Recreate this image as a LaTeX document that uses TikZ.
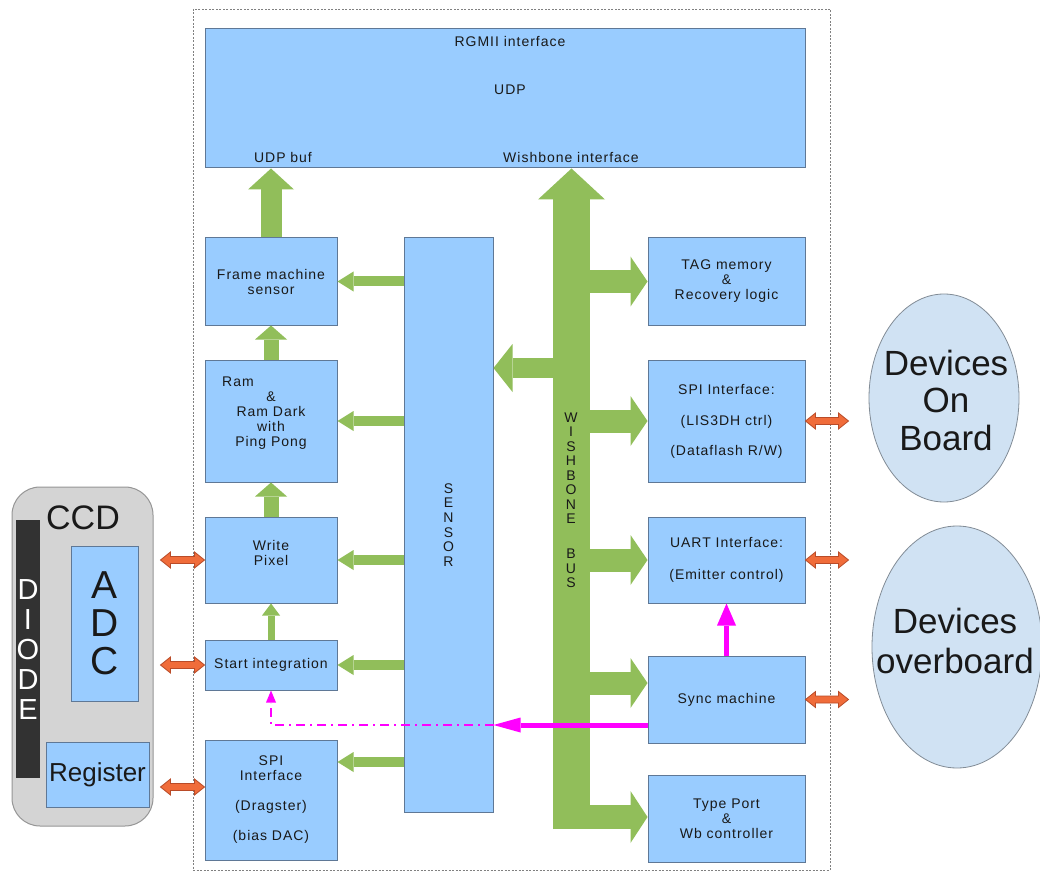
\documentclass[tikz,border=0pt]{standalone}
\usepackage{fontspec}
\setmainfont{Liberation Sans}
\newfontfamily\spacedsans{Liberation Sans}[LetterSpace=7]
\usetikzlibrary{arrows.meta,calc,shapes.geometric}

\definecolor{boxblue}{RGB}{153,204,255}
\definecolor{boxline}{RGB}{95,120,150}
\definecolor{busgreen}{RGB}{145,190,90}
\definecolor{linkorange}{RGB}{240,108,58}
\definecolor{linkedge}{RGB}{185,75,40}
\definecolor{syncmag}{RGB}{255,0,255}
\definecolor{ccdgray}{RGB}{212,212,212}
\definecolor{ccdedge}{RGB}{150,150,150}
\definecolor{diodedark}{RGB}{50,50,50}
\definecolor{devfill}{RGB}{208,226,243}
\definecolor{devedge}{RGB}{130,140,150}
\definecolor{inktext}{RGB}{25,25,25}

% horizontal two-headed link between two points (left to right)
\newcommand\biarrow[2]{%
  \draw[linkarrow] let \p1=#1, \p2=#2 in
    (\x1,\y1) -- (\x1+10pt,\y1+8pt) -- (\x1+10pt,\y1+3.5pt)
    -- (\x2-10pt,\y2+3.5pt) -- (\x2-10pt,\y2+8pt) -- (\x2,\y2)
    -- (\x2-10pt,\y2-8pt) -- (\x2-10pt,\y2-3.5pt)
    -- (\x1+10pt,\y1-3.5pt) -- (\x1+10pt,\y1-8pt) -- cycle;}

\tikzset{
  block/.style={rectangle, draw=boxline, fill=boxblue, line width=1pt,
    inner sep=0pt, align=center, text=inktext,
    font=\spacedsans\fontsize{14}{15}\selectfont},
  lbl/.style={inner sep=0pt, align=center, text=inktext,
    font=\spacedsans\fontsize{14}{15}\selectfont},
  fat/.style n args={3}{draw=busgreen, line width=#1,
    -{Triangle[width=#2, length=#3, line width=0pt]}},
  linkarrow/.style={fill=linkorange, draw=linkedge, line width=0.8pt, line join=miter},
  syncline/.style n args={2}{draw=syncmag, line width=5pt,
    -{Triangle[width=#1, length=#2, line width=0pt]}},
  syncdash/.style={draw=syncmag, line width=1.6pt,
    dash pattern=on 9pt off 5pt on 2pt off 5pt,
    -{Triangle[width=10pt, length=12pt, line width=0pt]}},
  device/.style={ellipse, draw=devedge, fill=devfill, line width=0.8pt, inner sep=0pt},
  bigtext/.style={inner sep=0pt, align=center, text=inktext}
}

\begin{document}
\begin{tikzpicture}[x=1pt,y=-1pt]
\clip (0,0) rectangle (1040,874);
\fill[white] (0,0) rectangle (1040,874);

% FPGA boundary
\draw[gray, line width=0.8pt, dash pattern=on 2pt off 1.5pt] (193,9) rectangle (830,870);

% UDP core
\node[block, minimum width=600pt, minimum height=139pt] (udp) at (505,98.5) {};
\node[lbl] (rgmii) at (510,41) {RGMII interface};
\node[lbl] (udpname) at (510,90) {UDP};
\node[lbl] (udpbuf) at (283,157) {UDP buf};
\node[lbl] (wbif) at (571,157) {Wishbone interface};

% left column
\node[block, minimum width=132pt, minimum height=87pt] (frame) at (271,281.5) {Frame machine\\sensor};
\node[block, minimum width=132pt, minimum height=122pt] (ram) at (271,421) {};
\node[lbl] (ramtxt) at (271,413) {Ram\hspace*{66pt}\\\&\\Ram Dark\\with\\Ping Pong};
\node[block, minimum width=132pt, minimum height=86pt] (wp) at (271,560) {};
\node[lbl] (wptxt) at (271,552.5) {Write\\Pixel};
\node[block, minimum width=132pt, minimum height=50pt] (si) at (271,665) {Start integration};
\node[block, minimum width=132pt, minimum height=120pt] (spil) at (271,800)
  {SPI\\Interface\\[15pt](Dragster)\\[15pt](bias DAC)};

% sensor column
\node[block, minimum width=89pt, minimum height=574pt] (sensor) at (448.5,525)
  {S\\[-0.3pt]E\\[-0.3pt]N\\[-0.3pt]S\\[-0.3pt]O\\[-0.3pt]R};

% right column
\node[block, minimum width=157pt, minimum height=87pt] (tag) at (726.5,281.5)
  {TAG memory\\\&\\Recovery logic};
\node[block, minimum width=157pt, minimum height=122pt] (spir) at (726.5,421)
  {SPI Interface:\\[16pt](LIS3DH ctrl)\\[15pt](Dataflash R/W)};
\node[block, minimum width=157pt, minimum height=86pt] (uart) at (726.5,560)
  {UART Interface:\\[17pt](Emitter control)};
\node[block, minimum width=157pt, minimum height=87pt] (sync) at (726.5,699.5) {Sync machine};
\node[block, minimum width=157pt, minimum height=87pt] (typ) at (726.5,818.5)
  {Type Port\\\&\\Wb controller};

% CCD
\node[rectangle, rounded corners=28pt, draw=ccdedge, fill=ccdgray, line width=1pt,
  minimum width=141pt, minimum height=339pt] (ccd) at (82.5,656.5) {};
\node[rectangle, fill=diodedark, minimum width=24pt, minimum height=258pt, inner sep=0pt]
  (diode) at (28,649) {};
\node[bigtext, text=white, font=\fontsize{29}{30}\selectfont] (diodetxt) at (28,650) {D\\I\\O\\D\\E};
\node[block, minimum width=67pt, minimum height=155pt, font=\fontsize{39}{38}\selectfont]
  (adc) at (104.5,623.5) {A\\D\\C};
\node[block, minimum width=103pt, minimum height=65pt, font=\fontsize{26}{26}\selectfont]
  (reg) at (97.5,774.5) {Register};
\node[bigtext, font=\fontsize{34}{34}\selectfont] (ccdtxt) at (83,518) {CCD};

% external devices
\node[device, minimum width=150pt, minimum height=208pt] (onboard) at (944,398) {};
\node[bigtext, font=\fontsize{35}{37.5}\selectfont] (onboardtxt) at (946,400) {Devices\\On\\Board};
\node[device, minimum width=170pt, minimum height=242pt] (overboard) at (957,647) {};
\node[bigtext, font=\fontsize{35}{40}\selectfont] (overboardtxt) at (955,641) {Devices\\overboard};

% Wishbone bus and its taps
\coordinate (busfoot) at (571.5,829);
\coordinate (elbow) at (553,817);
\coordinate (tapsensor) at (0,368);
\coordinate (tapsync) at (0,683);
\draw[fat={37pt}{67pt}{31pt}] (busfoot) -- (busfoot |- udp.south);
\draw[fat={23pt}{50pt}{17pt}] (busfoot |- tag.west) -- (tag.west);
\draw[fat={23pt}{50pt}{17pt}] (busfoot |- spir.west) -- (spir.west);
\draw[fat={23pt}{50pt}{17pt}] (busfoot |- uart.west) -- (uart.west);
\draw[fat={23pt}{50pt}{17pt}] (busfoot |- tapsync) -- (sync.west |- tapsync);
\draw[fat={24pt}{52pt}{17pt}] (elbow) -- (elbow -| typ.west);
\draw[fat={20pt}{48pt}{19pt}] (busfoot |- tapsensor) -- (sensor.east |- tapsensor);
\node[bigtext, font=\fontsize{14}{14.5}\selectfont] (busname) at (571,500)
  {W\\I\\S\\H\\B\\O\\N\\E\\[20.5pt]B\\U\\S};

% data path
\draw[fat={21pt}{46pt}{21pt}] (frame.north) -- (frame.north |- udp.south);
\draw[fat={15pt}{32pt}{14pt}] (ram.north) -- (frame.south);
\draw[fat={15pt}{32pt}{14pt}] (wp.north) -- (ram.south);
\draw[fat={7pt}{18pt}{12pt}] (si.north) -- (wp.south);

% sensor control lines
\coordinate (tapspi) at (0,762);
\draw[fat={10pt}{20pt}{16pt}] (sensor.west |- frame.east) -- (frame.east);
\draw[fat={10pt}{20pt}{16pt}] (sensor.west |- ram.east) -- (ram.east);
\draw[fat={10pt}{20pt}{16pt}] (sensor.west |- wp.east) -- (wp.east);
\draw[fat={10pt}{20pt}{16pt}] (sensor.west |- si.east) -- (si.east);
\draw[fat={10pt}{20pt}{16pt}] (sensor.west |- tapspi) -- (spil.east |- tapspi);

% sync signals
\coordinate (tapsig) at (0,725);
\draw[syncline={19pt}{22pt}] (sync.north) -- (uart.south);
\draw[syncline={15pt}{27pt}] (sync.west |- tapsig) -- (sensor.east |- tapsig);
\draw[syncdash] (sensor.east |- tapsig) -- (si.south |- tapsig) -- (si.south);

% external links
\coordinate (ccdwp) at ($(ccd.east |- wp.west)+(7,0)$);
\coordinate (ccdsi) at ($(ccd.east |- si.west)+(7,0)$);
\coordinate (ccdreg) at ($(reg.east)+(11,12.5)$);
\biarrow{(ccdwp)}{(wp.west)}
\biarrow{(ccdsi)}{(si.west)}
\biarrow{(ccdreg)}{(ccdreg -| spil.west)}
\biarrow{(spir.east)}{($(spir.east)+(43,0)$)}
\biarrow{(uart.east)}{($(uart.east)+(43,0)$)}
\biarrow{(sync.east)}{($(sync.east)+(43,0)$)}
\end{tikzpicture}
\end{document}
